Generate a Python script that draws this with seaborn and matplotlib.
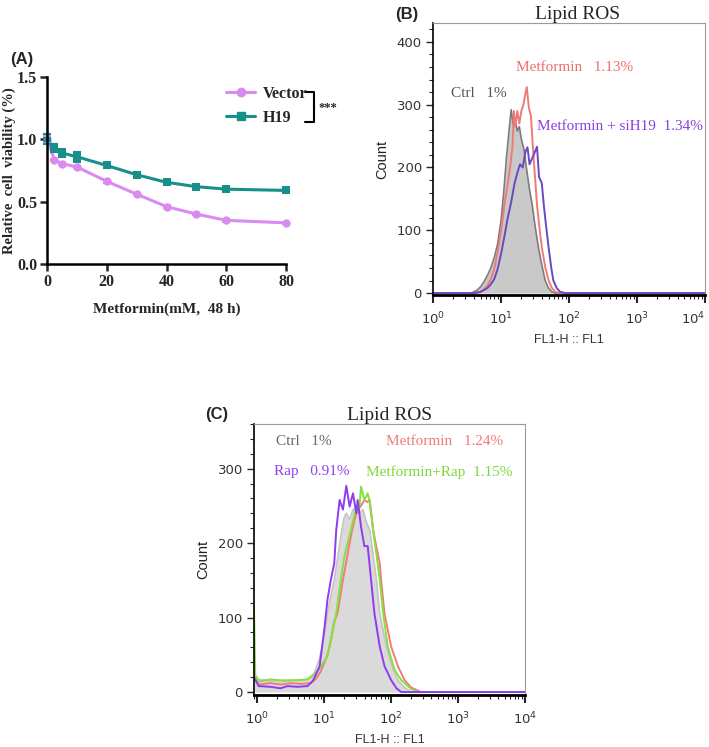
import numpy as np
import pandas as pd
import matplotlib
matplotlib.use("Agg")
import matplotlib.pyplot as plt
from matplotlib.lines import Line2D
from matplotlib.ticker import MultipleLocator, LogLocator, NullFormatter
import seaborn as sns

# ---- panel A: viability vs metformin dose ----
dose = [0, 2.5, 5, 10, 20, 30, 40, 50, 60, 80]
vector_mean = [1.00, 0.835, 0.805, 0.778, 0.663, 0.560, 0.460, 0.400, 0.350, 0.330]
vector_sem = [0.03, 0.01, 0.01, 0.01, 0.01, 0.01, 0.01, 0.01, 0.01, 0.01]
h19_mean = [1.00, 0.930, 0.890, 0.860, 0.790, 0.716, 0.655, 0.620, 0.600, 0.590]
h19_sem = [0.04, 0.03, 0.035, 0.04, 0.01, 0.01, 0.01, 0.01, 0.01, 0.01]

# ---- panel B: lipid ROS histograms (x = log10 FL1) ----
b_ctrl_log = [0.0, 0.55, 0.6, 0.65, 0.7, 0.75, 0.8, 0.85, 0.9, 0.95, 1.0, 1.04, 1.08, 1.12, 1.15,
              1.18, 1.21, 1.24, 1.27, 1.3, 1.34, 1.38, 1.42, 1.46, 1.5, 1.55, 1.6, 1.65, 1.7, 1.75, 1.8, 4.0]
b_ctrl_cnt = [0, 0, 2, 5, 10, 18, 28, 40, 56, 78, 115, 160, 215, 260, 292,
              268, 275, 258, 265, 245, 228, 195, 165, 140, 108, 73, 45, 20, 8, 2, 0, 0]
b_met_log = [0.0, 0.65, 0.7, 0.75, 0.8, 0.85, 0.9, 0.95, 1.0, 1.05, 1.1, 1.14, 1.17, 1.19, 1.21,
             1.24, 1.27, 1.3, 1.33, 1.36, 1.38, 1.41, 1.44, 1.47, 1.5, 1.53, 1.57, 1.6, 1.65, 1.7,
             1.75, 1.8, 1.85, 4.0]
b_met_cnt = [0, 0, 2, 6, 12, 22, 38, 65, 98, 140, 175, 205, 235, 290, 265,
             290, 270, 290, 300, 318, 328, 295, 282, 232, 185, 140, 100, 73, 42, 20,
             8, 2, 0, 0]
b_si_log = [0.0, 0.6, 0.7, 0.8, 0.85, 0.9, 0.95, 1.0, 1.05, 1.1, 1.15, 1.2, 1.25, 1.28, 1.32,
            1.36, 1.39, 1.42, 1.46, 1.5, 1.53, 1.56, 1.6, 1.63, 1.66, 1.7, 1.74, 1.77, 1.82, 1.87,
            1.95, 4.0]
b_si_cnt = [0, 0, 2, 8, 14, 22, 38, 62, 90, 120, 145, 175, 195, 205, 200,
            225, 232, 205, 215, 225, 233, 185, 175, 140, 110, 73, 40, 20, 8, 2,
            0, 0]

# ---- panel C ----
c_ctrl_log = [-0.05, 0.02, 0.2, 0.4, 0.6, 0.75, 0.85, 0.93, 1.0, 1.05, 1.1, 1.15, 1.2, 1.25, 1.3,
              1.33, 1.38, 1.43, 1.48, 1.53, 1.58, 1.63, 1.68, 1.73, 1.78, 1.83, 1.93, 2.0, 2.1,
              2.2, 2.3, 4.0]
c_ctrl_cnt = [25, 17, 15, 16, 16, 17, 25, 45, 75, 106, 130, 151, 180, 210, 235,
              240, 232, 245, 248, 240, 245, 228, 218, 185, 151, 106, 61, 38, 16,
              6, 0, 0]
c_rap_log = [-0.05, 0.02, 0.2, 0.35, 0.45, 0.6, 0.75, 0.83, 0.93, 1.0, 1.05, 1.1, 1.15, 1.18,
             1.23, 1.28, 1.33, 1.38, 1.43, 1.48, 1.5, 1.55, 1.6, 1.65, 1.7, 1.75, 1.83, 1.9, 2.0,
             2.08, 2.15, 4.0]
c_rap_cnt = [20, 8, 7, 5, 8, 7, 8, 15, 34, 83, 125, 151, 173, 218,
             258, 245, 277, 249, 267, 240, 258, 222, 196, 196, 151, 106, 61, 35, 16,
             5, 0, 0]
c_met_log = [-0.05, 0.02, 0.2, 0.35, 0.5, 0.65, 0.8, 0.88, 0.95, 1.05, 1.1, 1.15, 1.2, 1.28,
             1.33, 1.4, 1.45, 1.5, 1.55, 1.6, 1.65, 1.68, 1.73, 1.78, 1.83, 1.85, 1.9, 2.0, 2.1,
             2.2, 2.3, 2.45, 4.0]
c_met_cnt = [25, 10, 12, 10, 12, 11, 12, 18, 28, 50, 70, 95, 106, 151,
             175, 210, 230, 245, 250, 258, 255, 258, 218, 195, 173, 151, 106, 61, 35,
             16, 6, 0, 0]
c_combo_log = [-0.05, -0.03, 0.02, 0.2, 0.4, 0.6, 0.75, 0.83, 0.93, 1.03, 1.08, 1.13, 1.18, 1.25,
               1.3, 1.35, 1.4, 1.48, 1.52, 1.55, 1.6, 1.65, 1.68, 1.73, 1.78, 1.83, 1.88, 1.95,
               2.05, 2.15, 2.3, 2.4, 4.0]
c_combo_cnt = [115, 20, 14, 17, 15, 16, 17, 22, 32, 45, 61, 83, 106, 151,
               182, 200, 218, 249, 240, 276, 258, 267, 255, 218, 185, 151, 106, 61,
               30, 16, 4, 0, 0]

decade_ticks = [1, 10, 100, 1000, 10000]
decade_labels = [r"$10^{0}$", r"$10^{1}$", r"$10^{2}$", r"$10^{3}$", r"$10^{4}$"]

SERIF = "Liberation Serif"
SANS = "Liberation Sans"

sns.set_style("ticks")
plt.rcParams["font.family"] = ["DejaVu Sans"]
plt.rcParams["mathtext.fontset"] = "dejavusans"

fig = plt.figure(figsize=(7.09, 7.47), dpi=100)

# ================= panel A =================
axA = fig.add_axes([0.0663, 0.6466, 0.3371, 0.2504])
dfA = pd.DataFrame({
    "dose": dose * 2,
    "viability": vector_mean + h19_mean,
    "group": ["Vector"] * len(dose) + ["H19"] * len(dose),
})
palA = {"Vector": "#D98BF0", "H19": "#17908A"}
sns.lineplot(data=dfA, x="dose", y="viability", hue="group", style="group",
             markers={"Vector": "o", "H19": "s"}, dashes=False, palette=palA,
             lw=2.2, markersize=6, markeredgewidth=0, legend=False, ax=axA, clip_on=False)
axA.errorbar(dose, vector_mean, yerr=vector_sem, fmt="none", ecolor=palA["Vector"],
             elinewidth=1.5, capsize=3, capthick=1.5, clip_on=False)
axA.errorbar(dose, h19_mean, yerr=h19_sem, fmt="none", ecolor=palA["H19"],
             elinewidth=1.5, capsize=3, capthick=1.5, clip_on=False)
axA.set_xlim(0, 80)
axA.set_ylim(0, 1.5)
axA.set_xticks([0, 20, 40, 60, 80])
axA.set_yticks([0, 0.5, 1.0, 1.5])
axA.set_yticklabels(["0.0", "0.5", "1.0", "1.5"])
sns.despine(ax=axA)
for s in ["left", "bottom"]:
    axA.spines[s].set_linewidth(1.8)
    axA.spines[s].set_color("black")
axA.tick_params(width=1.8, length=5, direction="out", pad=2)
for lab in axA.get_xticklabels() + axA.get_yticklabels():
    lab.set_fontfamily(SERIF)
    lab.set_fontweight("bold")
    lab.set_fontsize(11.5)
axA.set_xlabel("Metformin(mM,  48 h)", fontfamily=SERIF, fontweight="bold", fontsize=11, labelpad=9)
axA.set_ylabel("Relative  cell  viability (%)", fontfamily=SERIF, fontweight="bold", fontsize=10.5, labelpad=1)

handles = [Line2D([], [], color=palA["Vector"], marker="o", lw=2.2, markersize=6),
           Line2D([], [], color=palA["H19"], marker="s", lw=2.2, markersize=6)]
axA.legend(handles, ["Vector", "H19"], frameon=False, loc="upper left",
           bbox_to_anchor=(0.69, 1.03), handlelength=1.8, handletextpad=0.5,
           labelspacing=0.5, prop={"family": SERIF, "weight": "bold", "size": 11.5})
axA.plot([1.08, 1.117, 1.117, 1.08], [0.919, 0.919, 0.757, 0.757], color="black",
         lw=1.5, transform=axA.transAxes, clip_on=False)
axA.text(1.134, 0.835, "***", transform=axA.transAxes, fontfamily=SERIF,
         fontweight="bold", fontsize=9, va="center", ha="left")
fig.text(0.031, 0.921, "(A)", fontfamily=SANS, fontweight="bold", fontsize=12, ha="center", va="center")


def style_hist(ax, ymax, ylo):
    ax.set_xscale("log")
    ax.set_ylim(ylo, ymax)
    ax.yaxis.set_major_locator(MultipleLocator(100))
    ax.yaxis.set_minor_locator(MultipleLocator(20))
    ax.set_xticks(decade_ticks, labels=decade_labels)
    ax.xaxis.set_minor_locator(LogLocator(base=10, subs=np.arange(2, 10), numticks=20))
    ax.xaxis.set_minor_formatter(NullFormatter())
    for s in ["top", "right"]:
        ax.spines[s].set_color("#9a9a9a")
        ax.spines[s].set_linewidth(0.8)
    ax.spines["left"].set_color("black")
    ax.spines["left"].set_linewidth(1.2)
    ax.spines["bottom"].set_color("black")
    ax.spines["bottom"].set_linewidth(2.0)
    ax.tick_params(which="major", length=5, width=1.0, labelsize=9.5, labelcolor="#333333", pad=3)
    ax.tick_params(which="minor", length=3, width=0.8)
    ax.tick_params(axis="x", which="major", length=6, width=1.5, pad=5)
    ax.set_ylabel("Count", fontfamily=SANS, fontsize=10.5, color="#222222", labelpad=5)
    ax.set_xlabel("FL1-H :: FL1", fontfamily=SANS, fontsize=9, color="#333333", labelpad=5)


# ================= panel B =================
axB = fig.add_axes([0.6107, 0.6051, 0.3836, 0.3641])
xb = np.power(10.0, b_ctrl_log)
axB.fill_between(xb, 0, b_ctrl_cnt, color="#C9C9C9", lw=0)
sns.lineplot(x=xb, y=b_ctrl_cnt, color="#7d7d7d", lw=1.2, ax=axB, sort=False)
sns.lineplot(x=np.power(10.0, b_met_log), y=b_met_cnt, color="#F07A78", lw=1.4, ax=axB, sort=False)
sns.lineplot(x=np.power(10.0, b_si_log), y=b_si_cnt, color="#6A48C0", lw=1.4, ax=axB, sort=False)
axB.set_xlim(1, 1e4)
style_hist(axB, 430, -3)
axB.get_xticklabels()[-1].set_horizontalalignment("right")
axB.set_title("Lipid ROS", fontfamily=SERIF, fontsize=14, pad=3, x=0.53)
axB.text(0.066, 0.739, "Ctrl   1%", transform=axB.transAxes, fontfamily=SERIF, fontsize=11,
         color="#555555", va="center")
axB.text(0.305, 0.835, "Metformin   1.13%", transform=axB.transAxes, fontfamily=SERIF, fontsize=11,
         color="#EE6F6C", va="center")
axB.text(0.382, 0.621, "Metformin + siH19  1.34%", transform=axB.transAxes, fontfamily=SERIF,
         fontsize=11, color="#8A3FE0", va="center")
fig.text(0.574, 0.980, "(B)", fontfamily=SANS, fontweight="bold", fontsize=12, ha="center", va="center")

# ================= panel C =================
axC = fig.add_axes([0.3582, 0.0696, 0.3822, 0.3628])
xc = np.power(10.0, c_ctrl_log)
axC.fill_between(xc, 0, c_ctrl_cnt, color="#DADADA", lw=0)
sns.lineplot(x=xc, y=c_ctrl_cnt, color="#C4C4C4", lw=1.2, ax=axC, sort=False)
sns.lineplot(x=np.power(10.0, c_met_log), y=c_met_cnt, color="#F27C78", lw=1.4, ax=axC, sort=False)
sns.lineplot(x=np.power(10.0, c_combo_log), y=c_combo_cnt, color="#86E040", lw=1.4, ax=axC, sort=False)
sns.lineplot(x=np.power(10.0, c_rap_log), y=c_rap_cnt, color="#8E3CF0", lw=1.4, ax=axC, sort=False)
axC.set_xlim(10 ** -0.05, 1e4)
style_hist(axC, 360, -4)
axC.set_title("Lipid ROS", fontfamily=SERIF, fontsize=14, pad=3)
axC.text(0.081, 0.937, "Ctrl   1%", transform=axC.transAxes, fontfamily=SERIF, fontsize=11,
         color="#666666", va="center")
axC.text(0.487, 0.937, "Metformin   1.24%", transform=axC.transAxes, fontfamily=SERIF, fontsize=11,
         color="#F07A78", va="center")
axC.text(0.074, 0.823, "Rap   0.91%", transform=axC.transAxes, fontfamily=SERIF, fontsize=11,
         color="#9040F0", va="center")
axC.text(0.413, 0.823, "Metformin+Rap  1.15%", transform=axC.transAxes, fontfamily=SERIF, fontsize=11,
         color="#7ED83A", va="center")
fig.text(0.305, 0.445, "(C)", fontfamily=SANS, fontweight="bold", fontsize=12, ha="center", va="center")

fig.savefig("out.png", dpi=100)
